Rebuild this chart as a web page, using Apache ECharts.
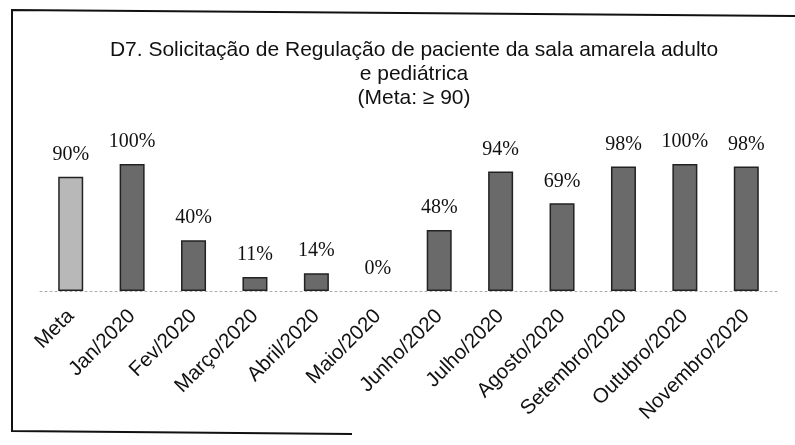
<!DOCTYPE html>
<html>
<head>
<meta charset="utf-8">
<script src="https://cdn.jsdelivr.net/npm/echarts@6/dist/echarts.min.js"></script>
<style>
  html, body { margin: 0; padding: 0; background: #fff; }
  #chart { width: 795px; height: 445px; }
</style>
</head>
<body>
<div id="chart"></div>
<script>
// dados do indicador D7
var categorias = ['Meta', 'Jan/2020', 'Fev/2020', 'Março/2020', 'Abril/2020', 'Maio/2020',
    'Junho/2020', 'Julho/2020', 'Agosto/2020', 'Setembro/2020', 'Outubro/2020', 'Novembro/2020'];
var valores = [90, 100, 40, 11, 14, 0, 48, 94, 69, 98, 100, 98];
var titulo = 'D7. Solicitação de Regulação de paciente da sala amarela adulto\ne pediátrica\n(Meta: ≥ 90)';

var chart = echarts.init(document.getElementById('chart'));

// a barra da meta fica mais clara; valor zero sem contorno
var dados = valores.map(function(v, i) {
    return {
        value: v,
        itemStyle: {
            color: i === 0 ? '#b8b8b8' : '#6a6a6a',
            borderWidth: v === 0 ? 0 : 1.5
        }
    };
});

chart.setOption({
    animation: false,
    backgroundColor: '#fff',
    title: {
        text: titulo,
        left: 409,
        top: 33,
        textAlign: 'center',
        textStyle: {
            fontFamily: 'Liberation Sans',
            fontSize: 21,
            fontWeight: 'normal',
            color: '#111',
            lineHeight: 24
        }
    },
    grid: { left: 40, right: 18, top: 164, bottom: 154 },
    xAxis: {
        type: 'category',
        data: categorias,
        axisTick: { show: false },
        axisLine: { lineStyle: { color: '#aaa', type: [2, 3], width: 1 } },
        axisLabel: {
            rotate: 45,
            interval: 0,
            margin: 22,
            fontFamily: 'Liberation Sans',
            fontSize: 20.5,
            color: '#111'
        }
    },
    yAxis: {
        type: 'value',
        min: 0,
        max: 100,
        show: false,
        splitLine: { show: false }
    },
    series: [{
        type: 'bar',
        data: dados,
        barWidth: 25,
        itemStyle: { borderColor: '#222' },
        label: {
            show: true,
            position: 'top',
            distance: 12,
            formatter: '{c}%',
            fontFamily: 'Liberation Serif',
            fontSize: 20,
            color: '#111'
        }
    }],
    graphic: [{
        type: 'polyline',
        shape: { points: [[795, 16], [12, 10], [12, 431], [352, 434]] },
        style: { stroke: '#111', lineWidth: 2, fill: null }
    }]
});
</script>
</body>
</html>
